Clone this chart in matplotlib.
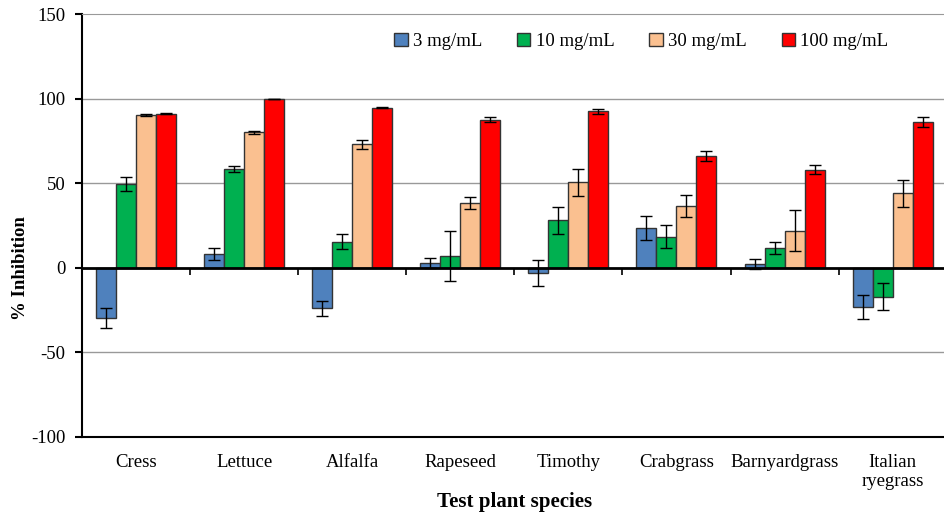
import numpy as np
import matplotlib.pyplot as plt

plt.rcParams['font.family'] = ['Liberation Serif', 'DejaVu Serif']
plt.rcParams['axes.unicode_minus'] = False

species = ["Cress", "Lettuce", "Alfalfa", "Rapeseed", "Timothy",
           "Crabgrass", "Barnyardgrass", "Italian\nryegrass"]
doses = ["3 mg/mL", "10 mg/mL", "30 mg/mL", "100 mg/mL"]

inh_3 = [-29.5, 8, -24, 3, -3, 23.5, 2.5, -23]
inh_10 = [49.5, 58.5, 15.5, 7, 28, 18.5, 11.5, -17]
inh_30 = [90.5, 80, 73, 38.5, 50.5, 36.5, 22, 44]
inh_100 = [91, 100, 94.5, 87.5, 92.5, 66, 58, 86]

err_3 = [6, 3.5, 4.5, 3, 7.5, 7, 3, 7]
err_10 = [4, 1.8, 4.5, 15, 8, 7, 3.5, 8]
err_30 = [0.6, 1, 2.5, 3.5, 8, 6.5, 12, 8]
err_100 = [0.3, 0, 0.3, 1.5, 1.5, 3, 2.5, 3]

colors = ["#4F81BD", "#00B050", "#FAC090", "#FF0000"]

values = [inh_3, inh_10, inh_30, inh_100]
errors = [err_3, err_10, err_30, err_100]

fig = plt.figure(figsize=(9.45, 5.12), dpi=100)
ax = fig.add_axes([0.0868, 0.1465, 0.915, 0.826])

x = np.arange(len(species))
width = 0.185
for i in range(4):
    pos = x + (i - 1.5) * width
    ax.bar(pos, values[i], width, color=colors[i], edgecolor="#333333",
           linewidth=1.0, label=doses[i], zorder=3)
    ax.errorbar(pos, values[i], yerr=errors[i], fmt="none", ecolor="black",
                elinewidth=1, capsize=4, capthick=1, zorder=4)

ax.set_xlim(-0.5, len(species) - 0.5)
ax.set_ylim(-100, 150)
ax.set_yticks([-100, -50, 0, 50, 100, 150])
for yv in [-50, 50, 100]:
    ax.axhline(yv, color="#999999", linewidth=1, zorder=1)
ax.axhline(0, color="black", linewidth=2, zorder=5)

# small tick marks on the zero line between groups
bounds = np.arange(len(species) + 1) - 0.5
ax.vlines(bounds[1:-1], -4, 0, color="black", linewidth=1.2, zorder=5)

ax.set_xticks(x)
ax.set_xticklabels(species, fontsize=13.5, linespacing=1.15)
ax.tick_params(axis="x", length=0, pad=12)
ax.tick_params(axis="y", length=5, width=1.5, pad=7, labelsize=13.5)

ax.spines["top"].set_color("#999999")
ax.spines["right"].set_visible(False)
ax.spines["left"].set_linewidth(1.5)
ax.spines["bottom"].set_linewidth(1.5)

ax.set_ylabel("% Inhibition", fontsize=13.5, fontweight="bold")
ax.yaxis.set_label_coords(-0.061, 0.4)
ax.set_xlabel("Test plant species", fontsize=15, fontweight="bold", labelpad=2)

leg = ax.legend(loc="upper center", bbox_to_anchor=(0.647, 0.995), ncol=4,
                frameon=False, fontsize=13.5, handlelength=0.7, handleheight=0.7,
                handletextpad=0.3, columnspacing=1.85)

fig.savefig("out.png", dpi=100)
